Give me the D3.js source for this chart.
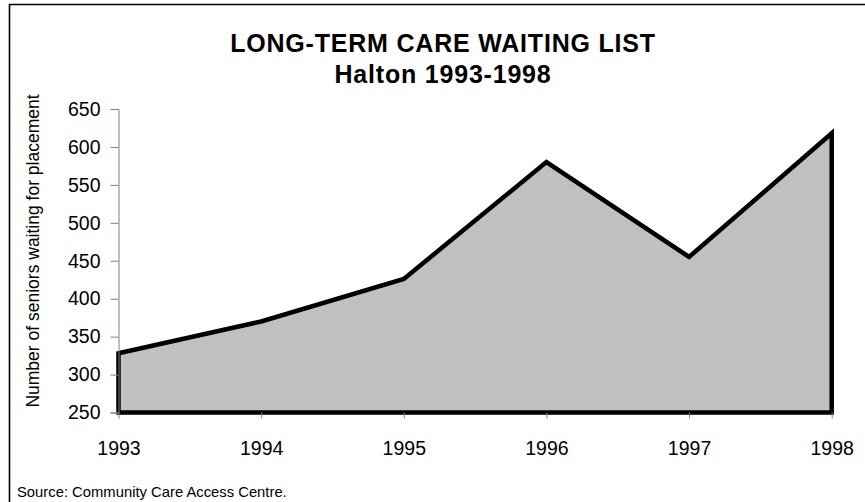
<!DOCTYPE html>
<html>
<head>
<meta charset="utf-8">
<script src="https://cdn.jsdelivr.net/npm/d3@7"></script>
<style>
    body { margin: 0; background: #fff; }
    text { font-family: Arial, "Liberation Sans", sans-serif; fill: #000; }
</style>
</head>
<body>
<div id="chart"></div>
<script>
// chart data
const years = [1993, 1994, 1995, 1996, 1997, 1998];
const waiting = [328, 370, 426, 580, 455, 618];
const y_ticks = [250, 300, 350, 400, 450, 500, 550, 600, 650];

const width = 865;
const height = 502;

var svg = d3.select("#chart").append("svg")
    .attr("width", width).attr("height", height);

// outer frame (only top and left edges are visible in the picture)
svg.append("path")
    .attr("d", "M9.5," + height + " V4.5 H" + width)
    .attr("fill", "none")
    .attr("stroke", "#000")
    .attr("stroke-width", 1.6);

var x = d3.scaleLinear().domain([1993, 1998]).range([118.5, 831.7]);
var y = d3.scaleLinear().domain([250, 650]).range([412.5, 109]);

// titles
svg.append("text")
    .attr("x", 443).attr("y", 52)
    .attr("text-anchor", "middle")
    .style("font-size", "25px").style("font-weight", "bold")
    .style("letter-spacing", "0.8px")
    .text("LONG-TERM CARE WAITING LIST");
svg.append("text")
    .attr("x", 443).attr("y", 83)
    .attr("text-anchor", "middle")
    .style("font-size", "25px").style("font-weight", "bold")
    .style("letter-spacing", "0.8px")
    .text("Halton 1993-1998");

// area
var pts = years.map((d, i) => ({year: d, value: waiting[i]}));
var area = d3.area()
    .x(d => x(d.year))
    .y0(y(250))
    .y1(d => y(d.value));

svg.append("path")
    .datum(pts)
    .attr("d", d => area(d) + "Z")
    .attr("fill", "#c0c0c0")
    .attr("stroke", "#000")
    .attr("stroke-width", 4.5)
    .attr("stroke-linejoin", "miter");

// y axis
var y_axis = svg.append("g")
    .attr("transform", "translate(" + x(1993) + ",0)")
    .call(d3.axisLeft(y).tickValues(y_ticks).tickSize(8).tickPadding(10));
y_axis.select(".domain").attr("stroke", "#808080");
y_axis.selectAll(".tick line").attr("stroke", "#808080");
y_axis.selectAll(".tick text")
    .style("font-size", "19.5px")
    .attr("fill", "#000");

// x axis
var x_axis = svg.append("g")
    .attr("transform", "translate(0," + y(250) + ")")
    .call(d3.axisBottom(x).tickValues(years).tickFormat(d3.format("d"))
        .tickSize(6).tickPadding(23));
x_axis.select(".domain").remove();
x_axis.selectAll(".tick line").attr("stroke", "#808080");
x_axis.selectAll(".tick text")
    .style("font-size", "19.5px")
    .attr("fill", "#000");

// y axis label
svg.append("text")
    .attr("transform", "translate(39," + 251 + ") rotate(-90)")
    .attr("text-anchor", "middle")
    .style("font-size", "17.5px")
    .text("Number of seniors waiting for placement");

// source note
svg.append("text")
    .attr("x", 17).attr("y", 497)
    .style("font-size", "14.8px")
    .text("Source: Community Care Access Centre.");
</script>
</body>
</html>
